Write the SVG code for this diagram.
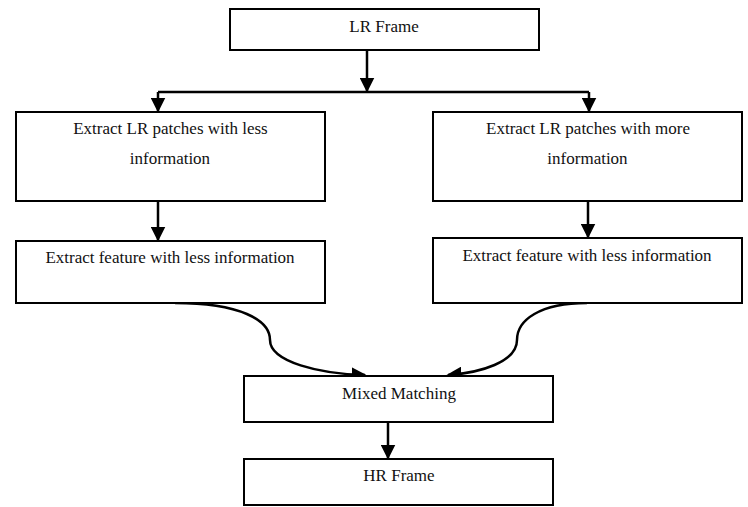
<svg xmlns="http://www.w3.org/2000/svg" width="748" height="507" viewBox="0 0 748 507">
<style>
.box{fill:#fff;stroke:#000;stroke-width:2}
.t{font-family:"Liberation Serif","Times New Roman",serif;font-size:17px;fill:#111;text-anchor:middle}
.c{fill:none;stroke:#000;stroke-width:2.5}
</style>
<defs>
<marker id="ah" viewBox="0 0 10 10" refX="9" refY="5" markerWidth="6" markerHeight="6" orient="auto" markerUnits="strokeWidth">
<path d="M0,0 L10,5 L0,10 Z" fill="#000"/>
</marker>
</defs>
<rect width="748" height="507" fill="#fff"/>
<g id="connectors">
<path class="c" d="M367,51 V91" marker-end="url(#ah)"/>
<path class="c" d="M158,92 H589"/>
<path class="c" d="M158,92 V111" marker-end="url(#ah)"/>
<path class="c" d="M589,92 V111" marker-end="url(#ah)"/>
<path class="c" d="M158,202 V240" marker-end="url(#ah)"/>
<path class="c" d="M588,202 V237" marker-end="url(#ah)"/>
<path class="c" d="M175,303 C240,303 270,320 270,340 C270,362 320,374 365,375" marker-end="url(#ah)"/>
<path class="c" d="M587,303 C540,303 517,320 517,340 C517,362 480,373 448,375" marker-end="url(#ah)"/>
<path class="c" d="M388,423 V458" marker-end="url(#ah)"/>
</g>
<g id="lr-frame">
<rect class="box" x="230" y="9" width="309" height="41"/>
<text class="t" x="384" y="32">LR Frame</text>
</g>
<g id="patches-less">
<rect class="box" x="16" y="112" width="309" height="89"/>
<text class="t" x="170.5" y="134">Extract LR patches with less</text>
<text class="t" x="170" y="164">information</text>
</g>
<g id="patches-more">
<rect class="box" x="433" y="112" width="309" height="89"/>
<text class="t" x="588" y="134">Extract LR patches with more</text>
<text class="t" x="587.5" y="164">information</text>
</g>
<g id="feature-left">
<rect class="box" x="16" y="241" width="309" height="62"/>
<text class="t" x="170" y="263">Extract feature with less information</text>
</g>
<g id="feature-right">
<rect class="box" x="433" y="238" width="309" height="65"/>
<text class="t" x="587" y="261">Extract feature with less information</text>
</g>
<g id="mixed-matching">
<rect class="box" x="244" y="376" width="309" height="46"/>
<text class="t" x="399" y="399">Mixed Matching</text>
</g>
<g id="hr-frame">
<rect class="box" x="244" y="459" width="309" height="46"/>
<text class="t" x="399" y="481">HR Frame</text>
</g>
</svg>
